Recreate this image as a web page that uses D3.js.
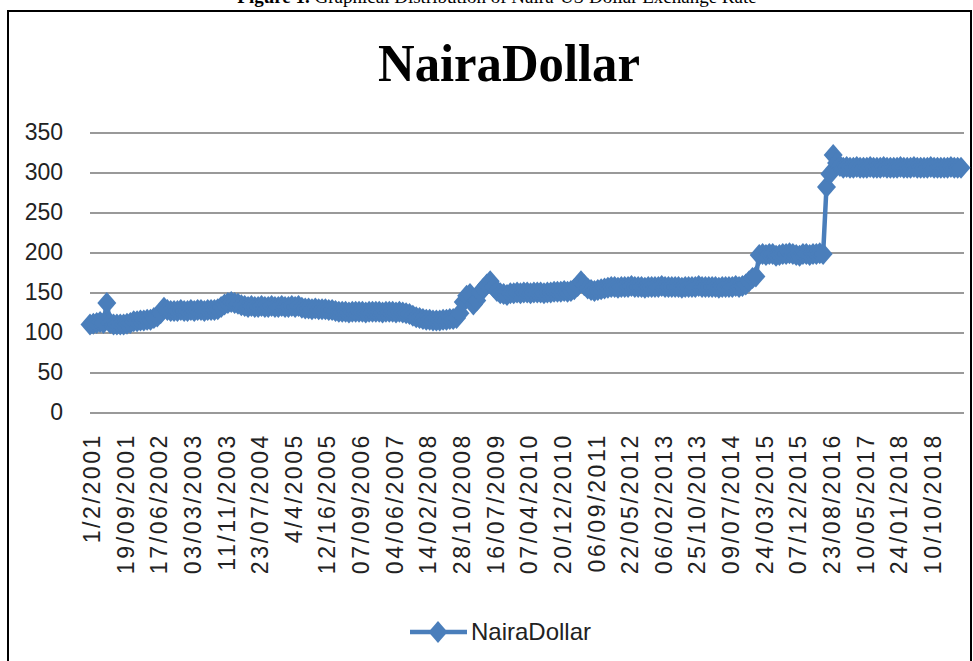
<!DOCTYPE html>
<html>
<head>
<meta charset="utf-8">
<script src="https://cdn.jsdelivr.net/npm/d3@7"></script>
<style>
  body { margin: 0; background: #fff; }
  svg { display: block; }
</style>
</head>
<body>
<div id="viz"></div>
<script>
const seriesName = "NairaDollar";

const rate = [
  110, 111, 112, 113, 112, 137, 112, 110, 110, 110, 110, 111, 112, 114, 114, 115, 115, 116, 116, 118, 120, 124, 131, 128, 127,
  127, 127, 128, 127, 127, 128, 127, 128, 128, 127, 128, 128, 128,
  129, 132, 135, 137, 138, 137, 136, 134, 133,
  132, 133, 132, 132, 133, 132, 132, 133, 132, 132, 133, 132, 132, 133, 132, 133,
  131,
  130, 130, 129, 130, 129, 129, 129, 128, 128, 127,
  126, 126, 126, 125, 126, 126, 126, 126, 125, 126, 126, 126, 126, 125, 126, 126, 126, 125, 126, 125,
  124, 123, 121, 119, 118, 117,
  116, 116, 115, 115, 115, 116, 116, 117, 117,
  118, 124, 138, 146, 148, 135, 140, 150, 155, 160, 164, 157, 152, 149, 148, 147,
  149, 149, 150, 149, 150, 150, 149, 150, 150, 150, 149, 150, 150, 151,
  151, 151, 152, 151, 152, 154, 158, 164, 159, 155, 153, 152, 153, 154, 155, 156,
  157, 157, 156, 157, 157, 157, 158, 157, 157, 157,
  156, 157, 157, 157, 157, 158, 157, 157, 157, 157,
  157, 156, 157, 157, 157, 157, 158, 157, 157, 157,
  157, 157, 156, 157, 157, 157, 157, 158, 157,
  158, 160, 164, 168, 170, 197,
  198, 197, 198, 198, 196, 197, 198, 198, 199, 198,
  197, 196, 198, 198, 197, 198, 198, 199, 198,
  282, 298, 322, 312, 308,
  306, 307, 306, 306, 307, 306, 306, 306, 307, 306,
  306, 306, 307, 306, 306, 306, 306, 307, 306, 306,
  306, 307, 306, 306, 306, 306, 307, 306, 306, 306,
  306, 306, 307, 306, 306, 306
];

// category labels shown on the axis (every 10th observation)
const dateLabels = [
  "1/2/2001", "19/09/2001", "17/06/2002", "03/03/2003", "11/11/2003", "23/07/2004",
  "4/4/2005", "12/16/2005", "07/09/2006", "04/06/2007", "14/02/2008", "28/10/2008",
  "16/07/2009", "07/04/2010", "20/12/2010", "06/09/2011", "22/05/2012", "06/02/2013",
  "25/10/2013", "09/07/2014", "24/03/2015", "07/12/2015", "23/08/2016", "10/05/2017",
  "24/01/2018", "10/10/2018"
];
const labelStep = 10;

const yTicks = [0, 50, 100, 150, 200, 250, 300, 350];

// sizes
const W = 973, H = 661;
const plot = {left: 90, right: 964, top: 132.5, bottom: 412.5};
const blue = "#4a7ebb";
const diamond = "M0,-11L9.5,0L0,11L-9.5,0Z";

const svg = d3.select("#viz")
  .append("svg")
    .attr("width", W)
    .attr("height", H);

svg.append("rect")
    .attr("width", W)
    .attr("height", H)
    .attr("fill", "#fff");

// figure caption, cut off at the top of the page like the scan
const cap = svg.append("text")
    .attr("x", 497)
    .attr("y", 3)
    .attr("text-anchor", "middle")
    .style("font-family", "'Liberation Serif', 'Times New Roman', serif")
    .style("font-size", "19px")
    .attr("fill", "#000");
cap.append("tspan").attr("font-weight", "bold").text("Figure 1.");
cap.append("tspan").text(" Graphical Distribution of Naira-US Dollar Exchange Rate");

// chart frame
svg.append("rect")
    .attr("x", 8)
    .attr("y", 11)
    .attr("width", 963)
    .attr("height", 700)
    .attr("fill", "none")
    .attr("stroke", "#000")
    .attr("stroke-width", 2);

// title
svg.append("text")
    .attr("x", 509)
    .attr("y", 81)
    .attr("text-anchor", "middle")
    .attr("textLength", 262)
    .attr("lengthAdjust", "spacingAndGlyphs")
    .style("font-family", "'Liberation Serif', 'Times New Roman', serif")
    .style("font-weight", "bold")
    .style("font-size", "53px")
    .attr("fill", "#000")
    .text(seriesName);

// scales
const x = d3.scaleLinear()
  .domain([0, rate.length - 1])
  .range([plot.left, 961]);

const y = d3.scaleLinear()
  .domain([0, 350])
  .range([plot.bottom, plot.top]);

// y axis + gridlines
const yAxis = svg.append("g")
    .attr("transform", `translate(${plot.left},0)`)
    .call(d3.axisLeft(y)
      .tickValues(yTicks)
      .tickSize(-(plot.right - plot.left))
      .tickPadding(27));

yAxis.select(".domain").remove();
yAxis.selectAll(".tick line")
    .attr("stroke", "#999")
    .attr("stroke-width", 2);
yAxis.selectAll(".tick text")
    .style("font-family", "'Liberation Sans', Arial, sans-serif")
    .style("font-size", "23px")
    .attr("fill", "#222");

// x category labels, rotated
svg.append("g")
  .selectAll("text")
  .data(dateLabels)
  .join("text")
    .attr("transform", (d, i) => `translate(${x(i * labelStep) + 2},433) rotate(-90)`)
    .attr("text-anchor", "end")
    .attr("dy", "0.35em")
    .style("font-family", "'Liberation Sans', Arial, sans-serif")
    .style("font-size", "23px")
    .style("letter-spacing", "2.6px")
    .attr("fill", "#222")
    .text(d => d);

// the line
svg.append("path")
    .datum(rate)
    .attr("fill", "none")
    .attr("stroke", blue)
    .attr("stroke-width", 4.5)
    .attr("stroke-linejoin", "round")
    .attr("d", d3.line()
      .x((d, i) => x(i))
      .y(d => y(d)));

// diamond markers
svg.append("g")
  .selectAll("path")
  .data(rate)
  .join("path")
    .attr("transform", (d, i) => `translate(${x(i)},${y(d)})`)
    .attr("d", diamond)
    .attr("fill", blue);

// legend
const lg = svg.append("g").attr("transform", "translate(0,632)");
lg.append("line")
    .attr("x1", 410)
    .attr("x2", 467)
    .attr("stroke", blue)
    .attr("stroke-width", 4.5);
lg.append("path")
    .attr("transform", "translate(438,0)")
    .attr("d", diamond)
    .attr("fill", blue);
lg.append("text")
    .attr("x", 471)
    .attr("dy", "0.35em")
    .style("font-family", "'Liberation Sans', Arial, sans-serif")
    .style("font-size", "24px")
    .attr("fill", "#222")
    .text(seriesName);
</script>
</body>
</html>
